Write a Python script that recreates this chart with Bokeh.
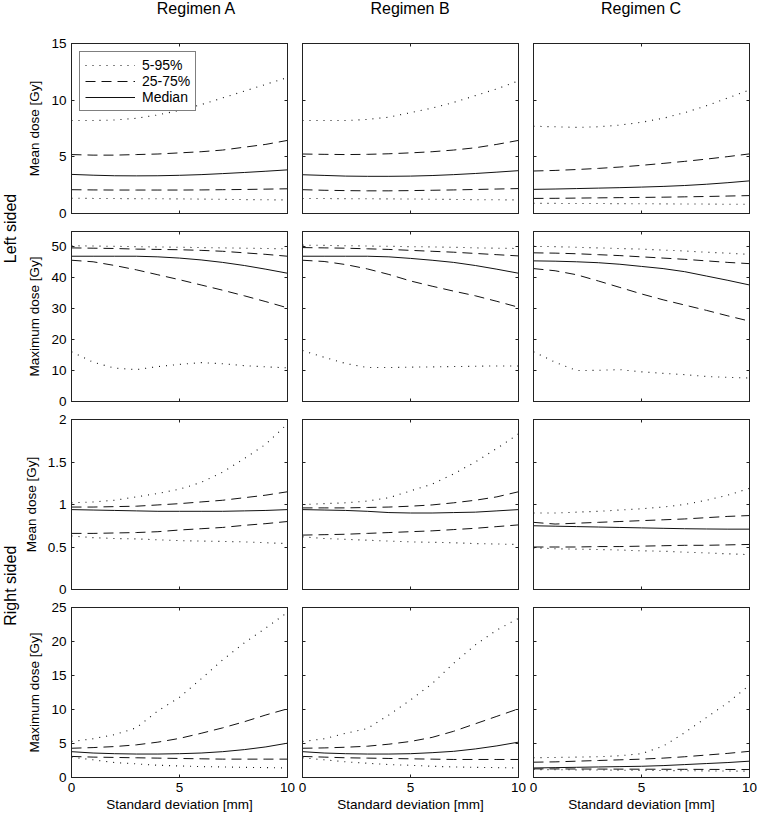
import math
from bokeh.plotting import figure
from bokeh.models import (GridBox, Range1d, FixedTicker, LinearAxis, Legend, LegendItem,
                          Label, PrintfTickFormatter)
from bokeh.embed import file_html
from bokeh.resources import INLINE

# ---------------- data ----------------
x_sd = [0, 1, 2, 3, 4, 5, 6, 7, 8, 9, 10]

regimens = ["Regimen A", "Regimen B", "Regimen C"]
side_labels = ["Left sided", "Right sided"]
y_labels = ["Mean dose [Gy]", "Maximum dose [Gy]", "Mean dose [Gy]", "Maximum dose [Gy]"]
x_label = "Standard deviation [mm]"
legend_labels = ["5-95%", "25-75%", "Median"]
x_ticks = [0, 5, 10]
y_ticks_rows = [[0, 5, 10, 15], [0, 10, 20, 30, 40, 50], [0, 0.5, 1, 1.5, 2], [0, 5, 10, 15, 20, 25]]
y_max_rows = [15, 55, 2, 25]

# Left sided, mean dose
lmean_A_p95 = [8.2, 8.2, 8.25, 8.4, 8.7, 9.1, 9.6, 10.2, 10.8, 11.4, 12.0]
lmean_A_p75 = [5.2, 5.15, 5.15, 5.2, 5.25, 5.35, 5.45, 5.6, 5.85, 6.1, 6.45]
lmean_A_med = [3.45, 3.38, 3.33, 3.32, 3.33, 3.37, 3.43, 3.52, 3.62, 3.73, 3.85]
lmean_A_p25 = [2.1, 2.08, 2.07, 2.07, 2.07, 2.07, 2.08, 2.1, 2.12, 2.15, 2.18]
lmean_A_p05 = [1.35, 1.33, 1.32, 1.31, 1.3, 1.29, 1.27, 1.25, 1.23, 1.21, 1.2]

lmean_B_p95 = [8.2, 8.2, 8.2, 8.3, 8.5, 8.9, 9.3, 9.8, 10.4, 11.0, 11.7]
lmean_B_p75 = [5.25, 5.22, 5.2, 5.22, 5.27, 5.35, 5.45, 5.6, 5.8, 6.1, 6.45]
lmean_B_med = [3.42, 3.36, 3.3, 3.28, 3.28, 3.3, 3.35, 3.43, 3.53, 3.65, 3.78]
lmean_B_p25 = [2.1, 2.05, 2.02, 2.0, 2.0, 2.02, 2.05, 2.08, 2.12, 2.16, 2.2]
lmean_B_p05 = [1.33, 1.32, 1.31, 1.3, 1.29, 1.28, 1.26, 1.24, 1.22, 1.21, 1.2]

lmean_C_p95 = [7.7, 7.65, 7.6, 7.65, 7.8, 8.05, 8.4, 8.9, 9.5, 10.2, 10.9]
lmean_C_p75 = [3.75, 3.8, 3.88, 3.98, 4.1, 4.25, 4.42, 4.6, 4.8, 5.02, 5.26]
lmean_C_med = [2.13, 2.16, 2.2, 2.24, 2.28, 2.33, 2.39, 2.47, 2.58, 2.72, 2.88]
lmean_C_p25 = [1.33, 1.34, 1.36, 1.38, 1.4, 1.42, 1.44, 1.47, 1.5, 1.54, 1.58]
lmean_C_p05 = [0.9, 0.89, 0.88, 0.88, 0.87, 0.86, 0.85, 0.84, 0.83, 0.82, 0.82]

# Left sided, maximum dose
lmax_A_p95 = [50.4, 50.3, 50.2, 50.1, 50.0, 49.9, 49.8, 49.7, 49.6, 49.5, 49.4]
lmax_A_p75 = [49.7, 49.6, 49.5, 49.3, 49.2, 49.1, 48.9, 48.6, 48.1, 47.6, 47.0]
lmax_A_med = [47.0, 47.0, 47.0, 47.0, 46.8, 46.4, 45.8, 45.0, 44.0, 42.8, 41.5]
lmax_A_p25 = [45.7, 45.2, 44.0, 42.6, 41.0, 39.4, 37.7, 36.0, 34.2, 32.3, 30.3]
lmax_A_p05 = [16.1, 12.7, 10.8, 10.3, 11.3, 12.0, 12.6, 12.2, 11.6, 11.2, 10.9]

lmax_B_p95 = [50.6, 50.5, 50.4, 50.3, 50.2, 50.1, 50.0, 49.9, 49.7, 49.6, 49.5]
lmax_B_p75 = [49.8, 49.7, 49.6, 49.4, 49.2, 48.9, 48.6, 48.3, 47.9, 47.5, 47.1]
lmax_B_med = [47.0, 47.0, 47.0, 47.0, 46.8, 46.3, 45.7, 45.0, 44.0, 42.8, 41.5]
lmax_B_p25 = [45.7, 45.3, 44.3, 42.9, 41.1, 39.0, 37.3, 35.7, 34.2, 32.4, 30.5]
lmax_B_p05 = [16.5, 14.3, 12.3, 11.0, 11.0, 11.1, 11.2, 11.3, 11.4, 11.5, 11.5]

lmax_C_p95 = [50.2, 50.1, 49.9, 49.7, 49.5, 49.3, 49.0, 48.7, 48.3, 48.0, 47.6]
lmax_C_p75 = [48.1, 48.0, 47.8, 47.5, 47.2, 46.8, 46.4, 46.0, 45.5, 45.0, 44.6]
lmax_C_med = [45.5, 45.4, 45.2, 44.9, 44.4, 43.7, 43.0, 42.0, 40.6, 39.2, 37.7]
lmax_C_p25 = [43.0, 42.3, 41.0, 39.0, 36.9, 34.8, 32.9, 31.2, 29.5, 27.7, 26.0]
lmax_C_p05 = [16.1, 12.7, 10.0, 10.1, 10.3, 9.6, 9.1, 8.7, 8.1, 7.8, 7.6]

# Right sided, mean dose
rmean_A_p95 = [1.02, 1.03, 1.05, 1.09, 1.13, 1.18, 1.26, 1.38, 1.54, 1.71, 1.95]
rmean_A_p75 = [0.97, 0.97, 0.975, 0.98, 0.995, 1.01, 1.03, 1.05, 1.08, 1.11, 1.15]
rmean_A_med = [0.94, 0.935, 0.93, 0.925, 0.92, 0.92, 0.92, 0.92, 0.925, 0.93, 0.94]
rmean_A_p25 = [0.66, 0.66, 0.665, 0.67, 0.68, 0.70, 0.715, 0.73, 0.755, 0.775, 0.80]
rmean_A_p05 = [0.63, 0.61, 0.60, 0.595, 0.585, 0.575, 0.57, 0.565, 0.56, 0.55, 0.54]

rmean_B_p95 = [1.0, 1.01, 1.02, 1.04, 1.08, 1.16, 1.24, 1.36, 1.5, 1.66, 1.83]
rmean_B_p75 = [0.96, 0.96, 0.96, 0.965, 0.97, 0.98, 0.995, 1.02, 1.05, 1.09, 1.15]
rmean_B_med = [0.94, 0.935, 0.93, 0.92, 0.905, 0.9, 0.9, 0.905, 0.91, 0.925, 0.94]
rmean_B_p25 = [0.64, 0.645, 0.65, 0.66, 0.67, 0.68, 0.69, 0.705, 0.72, 0.74, 0.76]
rmean_B_p05 = [0.62, 0.6, 0.59, 0.58, 0.57, 0.56, 0.555, 0.55, 0.54, 0.535, 0.53]

rmean_C_p95 = [0.9, 0.9, 0.91, 0.92, 0.935, 0.95, 0.97, 1.0, 1.05, 1.11, 1.19]
rmean_C_p75 = [0.79, 0.77, 0.78, 0.79, 0.80, 0.81, 0.82, 0.83, 0.845, 0.86, 0.87]
rmean_C_med = [0.75, 0.745, 0.74, 0.735, 0.73, 0.725, 0.72, 0.715, 0.712, 0.71, 0.71]
rmean_C_p25 = [0.5, 0.5, 0.5, 0.505, 0.505, 0.51, 0.515, 0.52, 0.52, 0.525, 0.53]
rmean_C_p05 = [0.49, 0.48, 0.475, 0.47, 0.465, 0.455, 0.45, 0.44, 0.43, 0.42, 0.41]

# Right sided, maximum dose
rmax_A_p95 = [5.3, 5.7, 6.3, 7.3, 9.8, 11.8, 14.5, 17.3, 19.8, 22.0, 24.3]
rmax_A_p75 = [4.3, 4.4, 4.55, 4.8, 5.2, 5.75, 6.5, 7.3, 8.2, 9.2, 10.1]
rmax_A_med = [3.8, 3.6, 3.5, 3.45, 3.45, 3.5, 3.6, 3.8, 4.1, 4.5, 5.05]
rmax_A_p25 = [3.1, 3.0, 2.95, 2.9, 2.85, 2.8, 2.75, 2.7, 2.7, 2.7, 2.7]
rmax_A_p05 = [3.0, 2.6, 2.2, 2.0, 1.8, 1.7, 1.6, 1.55, 1.5, 1.45, 1.4]

rmax_B_p95 = [5.3, 5.7, 6.5, 7.2, 9.2, 11.4, 13.8, 16.8, 19.5, 21.7, 23.4]
rmax_B_p75 = [4.3, 4.35, 4.45, 4.6, 4.9, 5.3, 5.9, 6.8, 7.9, 9.0, 10.1]
rmax_B_med = [3.8, 3.6, 3.5, 3.45, 3.45, 3.5, 3.65, 3.85, 4.2, 4.65, 5.2]
rmax_B_p25 = [3.1, 3.0, 2.9, 2.85, 2.8, 2.75, 2.7, 2.65, 2.65, 2.65, 2.65]
rmax_B_p05 = [2.9, 2.6, 2.3, 2.1, 1.9, 1.8, 1.65, 1.55, 1.5, 1.45, 1.4]

rmax_C_p95 = [2.9, 2.95, 3.0, 3.05, 3.2, 3.5, 4.6, 6.6, 8.8, 11.0, 13.6]
rmax_C_p75 = [2.25, 2.3, 2.4, 2.5, 2.6, 2.7, 2.85, 3.05, 3.3, 3.55, 3.85]
rmax_C_med = [1.4, 1.45, 1.5, 1.55, 1.6, 1.65, 1.75, 1.9, 2.05, 2.2, 2.4]
rmax_C_p25 = [1.27, 1.26, 1.25, 1.24, 1.23, 1.22, 1.21, 1.2, 1.19, 1.18, 1.17]
rmax_C_p05 = [1.17, 1.15, 1.12, 1.1, 1.08, 1.05, 1.02, 1.0, 0.97, 0.95, 0.93]

panels = [
    [(lmean_A_p05, lmean_A_p25, lmean_A_med, lmean_A_p75, lmean_A_p95),
     (lmean_B_p05, lmean_B_p25, lmean_B_med, lmean_B_p75, lmean_B_p95),
     (lmean_C_p05, lmean_C_p25, lmean_C_med, lmean_C_p75, lmean_C_p95)],
    [(lmax_A_p05, lmax_A_p25, lmax_A_med, lmax_A_p75, lmax_A_p95),
     (lmax_B_p05, lmax_B_p25, lmax_B_med, lmax_B_p75, lmax_B_p95),
     (lmax_C_p05, lmax_C_p25, lmax_C_med, lmax_C_p75, lmax_C_p95)],
    [(rmean_A_p05, rmean_A_p25, rmean_A_med, rmean_A_p75, rmean_A_p95),
     (rmean_B_p05, rmean_B_p25, rmean_B_med, rmean_B_p75, rmean_B_p95),
     (rmean_C_p05, rmean_C_p25, rmean_C_med, rmean_C_p75, rmean_C_p95)],
    [(rmax_A_p05, rmax_A_p25, rmax_A_med, rmax_A_p75, rmax_A_p95),
     (rmax_B_p05, rmax_B_p25, rmax_B_med, rmax_B_p75, rmax_B_p95),
     (rmax_C_p05, rmax_C_p25, rmax_C_med, rmax_C_p75, rmax_C_p95)],
]

# ---------------- layout / style ----------------
FONT = "Liberation Sans"
LINE_COLOR = "#111111"
FRAME_COLOR = "#222222"
DOT = "1 6"
DASH = "10 6"
TICK_FS = "13.5px"
LABEL_FS = "13.5px"

strip_w = 20
col_w = [275, 231, 231]          # panel figure widths
left_b = [51, 7, 7]
title_h = 22
row_h = [200, 188, 188, 218]     # panel figure heights
top_b = [21, 9, 9, 9]
bot_b = [9, 9, 9, 39]


def style_axis(ax, ticks, show_labels, label=None, fmt=None):
    ax.ticker = FixedTicker(ticks=ticks)
    ax.major_tick_in = 3
    ax.major_tick_out = 0
    ax.minor_tick_line_color = None
    ax.axis_line_color = FRAME_COLOR
    ax.major_tick_line_color = FRAME_COLOR
    ax.major_label_text_font = FONT
    if fmt is not None:
        ax.formatter = fmt
    if show_labels:
        ax.major_label_text_font_size = TICK_FS
        ax.major_label_text_color = "black"
        ax.major_label_standoff = 5
    else:
        ax.major_label_text_font_size = "0px"
        ax.major_label_text_color = None
        ax.major_label_standoff = 0
    if label:
        ax.axis_label = label
        ax.axis_label_text_font = FONT
        ax.axis_label_text_font_size = LABEL_FS
        ax.axis_label_text_font_style = "normal"
        ax.axis_label_text_color = "black"


def make_panel(r, c):
    p = figure(width=col_w[c], height=row_h[r],
               x_range=Range1d(0, 10), y_range=Range1d(0, y_max_rows[r]),
               output_backend="svg", toolbar_location=None, tools="",
               min_border_left=left_b[c], min_border_right=8,
               min_border_top=top_b[r], min_border_bottom=bot_b[r])
    p.grid.visible = False
    p.outline_line_color = FRAME_COLOR
    p.outline_line_width = 1
    p.background_fill_color = "white"
    p.border_fill_color = "white"

    bottom_row = (r == 3)
    style_axis(p.xaxis[0], x_ticks, bottom_row, x_label if bottom_row else None)
    if bottom_row:
        p.xaxis[0].axis_label_standoff = 2
    fmt = PrintfTickFormatter(format="%g")
    style_axis(p.yaxis[0], y_ticks_rows[r], c == 0, y_labels[r] if c == 0 else None, fmt)
    if c == 0:
        p.yaxis[0].axis_label_standoff = 6

    top_ax = LinearAxis()
    style_axis(top_ax, x_ticks, False)
    p.add_layout(top_ax, "above")
    right_ax = LinearAxis()
    style_axis(right_ax, y_ticks_rows[r], False)
    p.add_layout(right_ax, "right")

    p05, p25, med, p75, p95 = panels[r][c]
    r95 = p.line(x_sd, p95, line_color=LINE_COLOR, line_width=1.1, line_dash=DOT)
    p.line(x_sd, p05, line_color=LINE_COLOR, line_width=1.1, line_dash=DOT)
    r75 = p.line(x_sd, p75, line_color=LINE_COLOR, line_width=1, line_dash=DASH)
    p.line(x_sd, p25, line_color=LINE_COLOR, line_width=1, line_dash=DASH)
    rmed = p.line(x_sd, med, line_color=LINE_COLOR, line_width=1)

    if r == 0 and c == 0:
        leg = Legend(items=[LegendItem(label=legend_labels[0], renderers=[r95]),
                            LegendItem(label=legend_labels[1], renderers=[r75]),
                            LegendItem(label=legend_labels[2], renderers=[rmed])],
                     location="top_left", margin=8, padding=5, spacing=0,
                     glyph_width=50, glyph_height=16, label_height=16, label_width=20,
                     label_standoff=7,
                     label_text_font=FONT, label_text_font_size="14px",
                     label_text_color="black",
                     border_line_color="black", border_line_width=1,
                     background_fill_color="white", background_fill_alpha=1.0)
        p.add_layout(leg)
    return p


def make_text_box(text, width, height, fx, fy, angle):
    s = figure(width=width, height=height, x_range=Range1d(0, 1), y_range=Range1d(0, 1),
               x_axis_type=None, y_axis_type=None, output_backend="svg",
               toolbar_location=None, tools="", min_border=0)
    s.grid.visible = False
    s.outline_line_color = None
    s.background_fill_color = "white"
    s.border_fill_color = "white"
    s.add_layout(Label(x=fx, y=fy, text=text, angle=angle,
                       text_align="center", text_baseline="middle",
                       text_font=FONT, text_font_size="16px", text_color="black"))
    return s


children = []
# column titles: centred over each frame
for c in range(3):
    frame_center = left_b[c] + (col_w[c] - left_b[c] - 8) / 2
    children.append((make_text_box(regimens[c], col_w[c], title_h,
                                   frame_center / col_w[c], 0.65, 0), 0, c + 1))

# row-group labels: centred on the gap between the two rows of each group
h1 = row_h[0] + row_h[1]
h2 = row_h[2] + row_h[3]
children.append((make_text_box(side_labels[0], strip_w, h1, 0.5,
                               (row_h[1] - 0.5) / h1, math.pi / 2), 1, 0, 2, 1))
children.append((make_text_box(side_labels[1], strip_w, h2, 0.5,
                               (row_h[3] - 0.5) / h2, math.pi / 2), 3, 0, 2, 1))
for r in range(4):
    for c in range(3):
        children.append((make_panel(r, c), r + 1, c + 1))

grid = GridBox(children=children, spacing=0)

open("out.html", "w").write(file_html(grid, INLINE))
